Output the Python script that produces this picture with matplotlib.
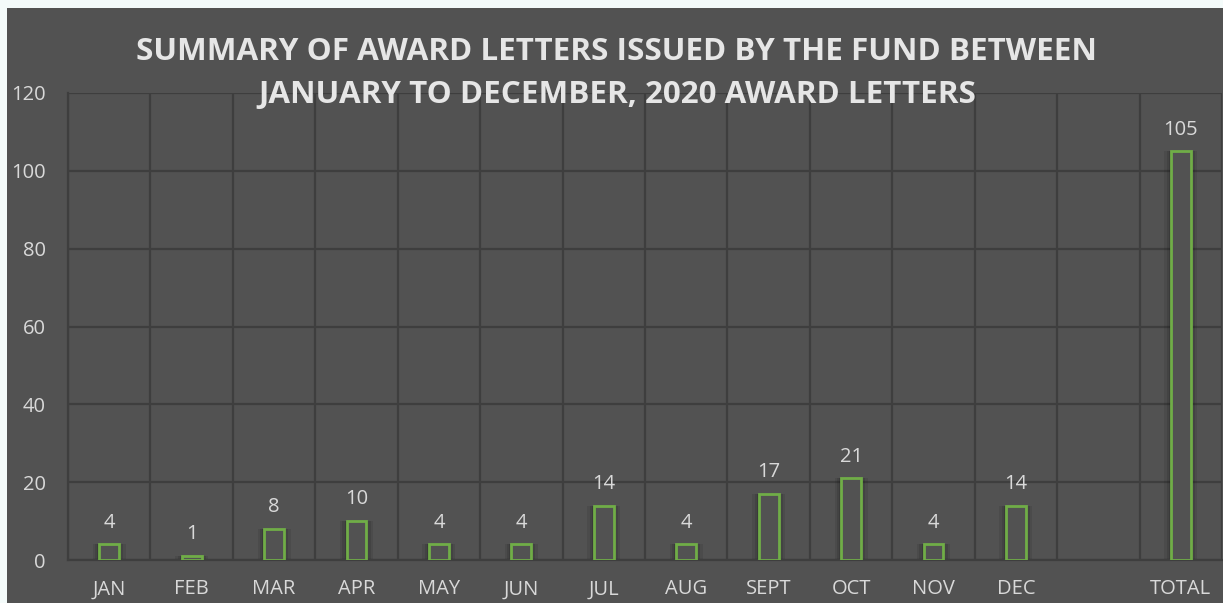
import numpy as np
import matplotlib.pyplot as plt
from matplotlib.patches import Rectangle

months = ["JAN", "FEB", "MAR", "APR", "MAY", "JUN", "JUL", "AUG", "SEPT", "OCT", "NOV", "DEC", "", "TOTAL"]
letters = [4, 1, 8, 10, 4, 4, 14, 4, 17, 21, 4, 14, None, 105]
yticks = [0, 20, 40, 60, 80, 100, 120]

panel = "#525252"
grid_col = "#3e3e3e"
text_col = "#d9d9d9"
green = "#70ad47"
outer = "#f4fbfa"

plt.rcParams["font.family"] = ["Open Sans", "DejaVu Sans"]

fig = plt.figure(figsize=(12.23, 6.03), dpi=100)
fig.patch.set_facecolor(panel)
# light margin on the left and top of the panel
fig.patches.append(Rectangle((0, 0), 7 / 1223, 1, transform=fig.transFigure,
                             facecolor=outer, edgecolor="none"))
fig.patches.append(Rectangle((0, 1 - 8 / 603), 1, 8 / 603, transform=fig.transFigure,
                             facecolor=outer, edgecolor="none"))

ax = fig.add_axes([68 / 1223, 43 / 603, 1154 / 1223, 467 / 603])
ax.set_facecolor(panel)

x = np.arange(len(months))
vals = [v if v is not None else 0 for v in letters]

# soft shadow behind the bars
for w, a in [(0.40, 0.08), (0.34, 0.10), (0.29, 0.12)]:
    ax.bar(x, vals, width=w, color="black", alpha=a, linewidth=0, zorder=2)
for i, v in enumerate(letters):
    if v is None:
        continue
    ax.bar(x[i], v, width=0.24, color=panel, edgecolor=green, linewidth=2, zorder=3)
    ax.text(x[i], v + 3.0, str(v), ha="center", va="bottom", color=text_col, fontsize=14.5, zorder=4)

ax.set_xlim(-0.5, len(months) - 0.5)
ax.set_ylim(0, 120)
ax.set_yticks(yticks)
ax.set_xticks(x)
ax.set_xticklabels(months)
ax.set_xticks(np.arange(len(months) + 1) - 0.5, minor=True)
ax.grid(True, which="minor", axis="x", color=grid_col, linewidth=1.6, zorder=1)
ax.grid(True, which="major", axis="y", color=grid_col, linewidth=1.6, zorder=1)
ax.grid(False, which="major", axis="x")
ax.set_axisbelow(True)
for s in ["top", "right"]:
    ax.spines[s].set_visible(False)
ax.spines["left"].set_color(grid_col)
ax.spines["left"].set_linewidth(1.6)
ax.spines["bottom"].set_color(grid_col)
ax.spines["bottom"].set_linewidth(1.6)
ax.tick_params(which="both", length=0, colors=text_col, labelsize=14.5)
ax.tick_params(axis="y", pad=16)
ax.tick_params(axis="x", pad=14)

fig.text(617 / 1223, 1 - 52 / 603, "SUMMARY OF AWARD LETTERS ISSUED BY THE FUND BETWEEN",
         ha="center", va="center", color="#e6e6e6", fontsize=22.6, fontweight="bold")
fig.text(617 / 1223, 1 - 95 / 603, "JANUARY TO DECEMBER, 2020 AWARD LETTERS",
         ha="center", va="center", color="#e6e6e6", fontsize=22.6, fontweight="bold", zorder=5)

fig.savefig("out.png", dpi=100, facecolor=fig.get_facecolor())
